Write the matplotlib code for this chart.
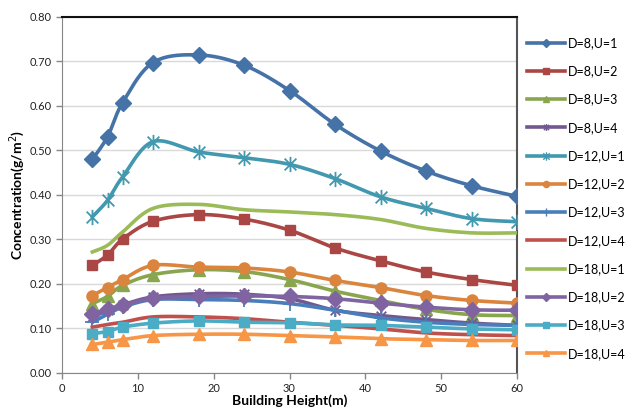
import numpy as np
import matplotlib
matplotlib.use("Agg")
import matplotlib.pyplot as plt
from matplotlib.lines import Line2D
from matplotlib.path import Path

plt.rcParams['font.family'] = ['Lato', 'DejaVu Sans']

heights = [4, 6, 8, 12, 18, 24, 30, 36, 42, 48, 54, 60]

labels = ["D=8,U=1", "D=8,U=2", "D=8,U=3", "D=8,U=4",
          "D=12,U=1", "D=12,U=2", "D=12,U=3", "D=12,U=4",
          "D=18,U=1", "D=18,U=2", "D=18,U=3", "D=18,U=4"]

d8_u1 = [0.479, 0.530, 0.607, 0.697, 0.714, 0.691, 0.634, 0.558, 0.498, 0.453, 0.420, 0.396]
d8_u2 = [0.241, 0.264, 0.300, 0.340, 0.355, 0.345, 0.320, 0.280, 0.251, 0.226, 0.209, 0.196]
d8_u3 = [0.155, 0.171, 0.196, 0.220, 0.231, 0.227, 0.209, 0.183, 0.162, 0.142, 0.130, 0.128]
d8_u4 = [0.125, 0.140, 0.152, 0.170, 0.177, 0.176, 0.166, 0.140, 0.128, 0.119, 0.111, 0.106]
d12_u1 = [0.350, 0.387, 0.440, 0.519, 0.496, 0.483, 0.468, 0.436, 0.395, 0.369, 0.346, 0.339]
d12_u2 = [0.173, 0.191, 0.209, 0.241, 0.237, 0.235, 0.226, 0.207, 0.191, 0.173, 0.162, 0.156]
d12_u3 = [0.113, 0.131, 0.147, 0.164, 0.164, 0.162, 0.155, 0.140, 0.123, 0.113, 0.108, 0.106]
d12_u4 = [0.102, 0.108, 0.113, 0.125, 0.125, 0.121, 0.113, 0.106, 0.098, 0.089, 0.085, 0.083]
d18_u1 = [0.271, 0.286, 0.316, 0.369, 0.378, 0.366, 0.361, 0.355, 0.344, 0.324, 0.314, 0.314]
d18_u2 = [0.132, 0.143, 0.151, 0.167, 0.171, 0.172, 0.171, 0.166, 0.156, 0.147, 0.141, 0.140]
d18_u3 = [0.087, 0.092, 0.102, 0.111, 0.116, 0.113, 0.112, 0.107, 0.106, 0.102, 0.098, 0.096]
d18_u4 = [0.063, 0.068, 0.074, 0.083, 0.086, 0.086, 0.083, 0.080, 0.076, 0.074, 0.072, 0.072]

series = [d8_u1, d8_u2, d8_u3, d8_u4, d12_u1, d12_u2, d12_u3, d12_u4,
          d18_u1, d18_u2, d18_u3, d18_u4]

colors = ["#4572A7", "#AA4643", "#89A54E", "#71588F", "#4198AF", "#DB843D",
          "#4A7EBB", "#C0504D", "#9BBB59", "#8064A2", "#4BACC6", "#F79646"]

# excel style star: x with a vertical bar
star = Path([(-1, -1), (1, 1), (-1, 1), (1, -1), (0, -1.3), (0, 1.3)],
            [Path.MOVETO, Path.LINETO, Path.MOVETO, Path.LINETO, Path.MOVETO, Path.LINETO])
markers = ["D", "s", "^", star, star, "o", "+", None, None, "D", "s", "^"]
msizes = [8, 7, 8, 9, 11, 8, 10, 0, 0, 8, 7, 8]

N = 20


def smooth(x, y, n=N):
    # bezier smoothing like excel's smoothed line
    pts = np.column_stack([x, y]).astype(float)
    ext = np.vstack([pts[0], pts, pts[-1]])
    out = []
    t = np.linspace(0, 1, n, endpoint=False)[:, None]
    for i in range(len(pts) - 1):
        p0, p3 = pts[i], pts[i + 1]
        c1 = p0 + (ext[i + 2] - ext[i]) / 6
        c2 = p3 - (ext[i + 3] - ext[i + 1]) / 6
        out.append((1 - t) ** 3 * p0 + 3 * (1 - t) ** 2 * t * c1
                   + 3 * (1 - t) * t ** 2 * c2 + t ** 3 * p3)
    out.append(pts[-1:])
    return np.vstack(out)


fig = plt.figure(figsize=(6.28, 4.17), dpi=100)
ax = fig.add_axes([62 / 628, 1 - 372.5 / 417, 455 / 628, 355.8 / 417])

handles = []
for vals, lab, c, m, ms in zip(series, labels, colors, markers, msizes):
    curve = smooth(heights, vals)
    idx = [i * N for i in range(len(heights))]
    ax.plot(curve[:, 0], curve[:, 1], color=c, lw=2.6, marker=m, markevery=idx,
            ms=ms, mec=c, mfc=c, mew=1.3 if m in (star, "+") else 1, zorder=3)
    handles.append(Line2D([], [], color=c, lw=2.6, marker=m, ms=ms * 0.55,
                          mec=c, mfc=c, mew=1))

ax.set_xlim(0, 60)
ax.set_ylim(0, 0.8)
ax.set_xticks(range(0, 61, 10))
ax.set_yticks(np.arange(0, 0.81, 0.1))
ax.set_yticklabels([f"{v:.2f}" for v in np.arange(0, 0.81, 0.1)])
ax.grid(axis="y", color="#d9d9d9", lw=1)
ax.set_axisbelow(True)
ax.tick_params(labelsize=8, colors="#868686", labelcolor="#222222", length=4, width=1)

ax.spines["top"].set_color("#111111")
ax.spines["top"].set_linewidth(1.5)
ax.spines["right"].set_color("#555555")
ax.spines["right"].set_linewidth(1.5)
ax.spines["left"].set_color("#868686")
ax.spines["bottom"].set_color("#868686")

ax.set_xlabel("Building Height(m)", fontsize=10, fontweight="bold", labelpad=0)
ax.set_ylabel("Concentration(g/m$^2$)", fontsize=10, fontweight="bold", labelpad=2)

fig.legend(handles, labels, loc="upper left", bbox_to_anchor=(527 / 628, 1 - 37 / 417),
           frameon=False, fontsize=9, handlelength=3.0, handletextpad=0.3,
           labelspacing=1.3, borderaxespad=0, borderpad=0)

fig.savefig("out.png", dpi=100)
